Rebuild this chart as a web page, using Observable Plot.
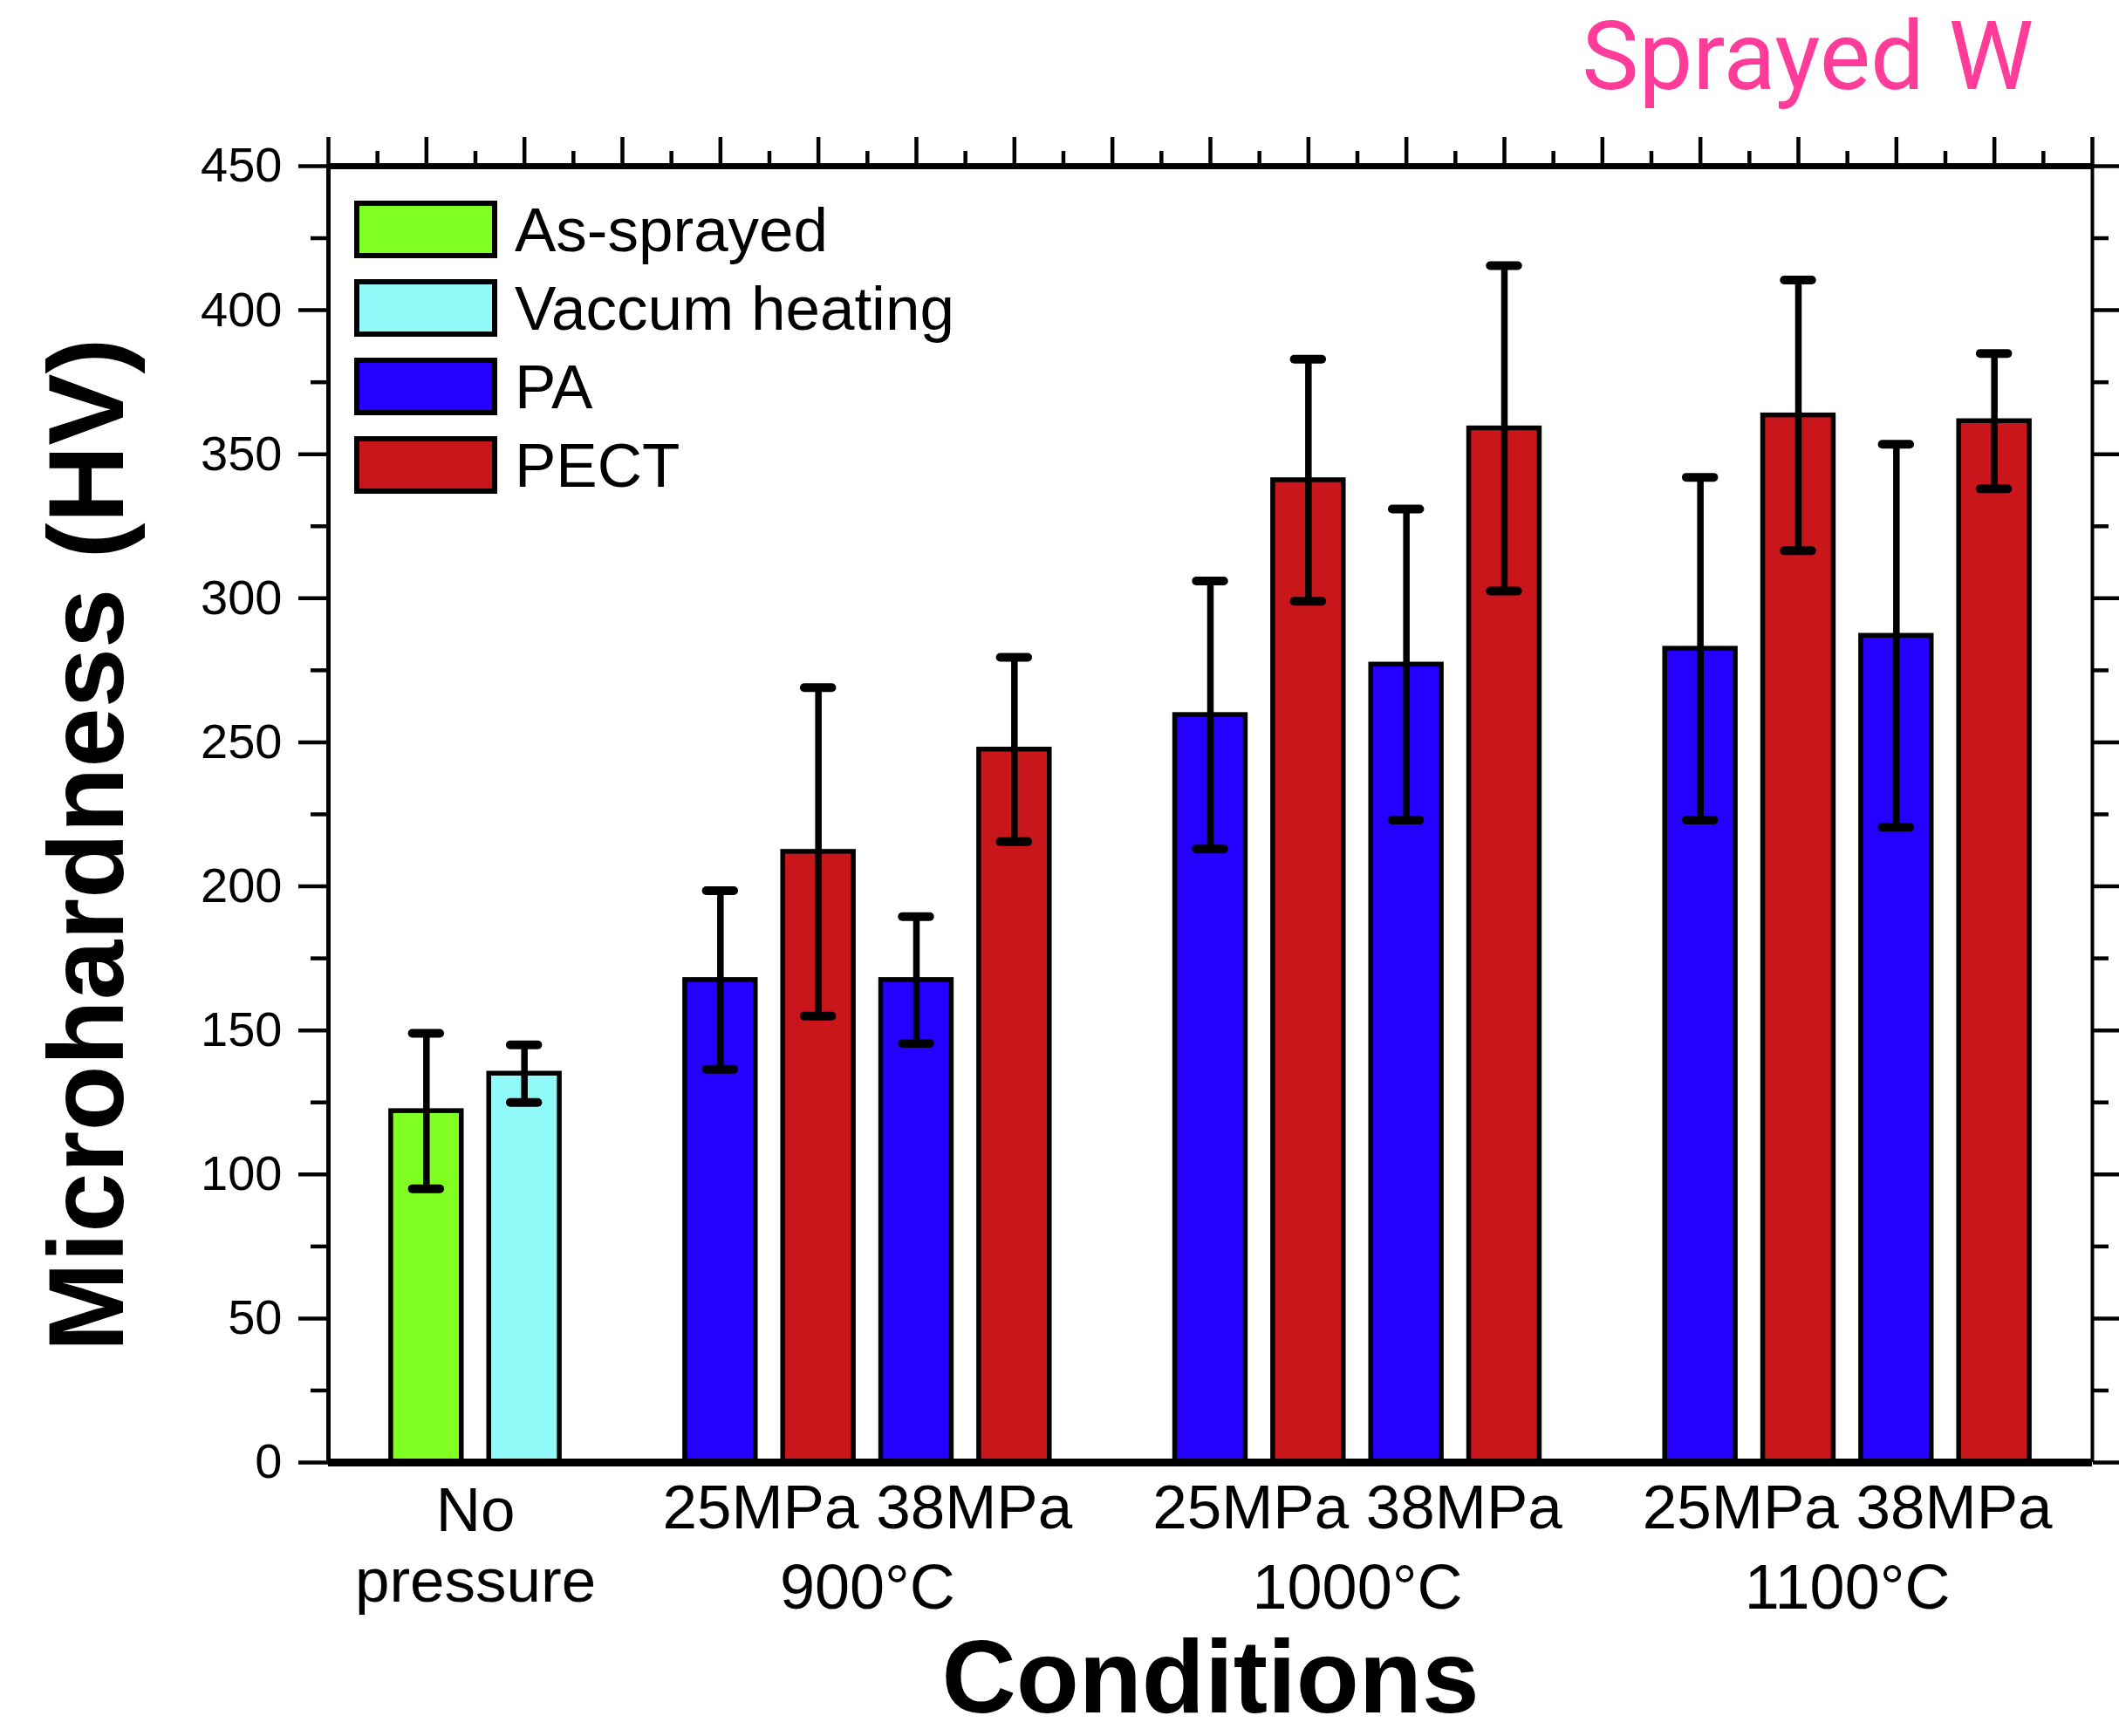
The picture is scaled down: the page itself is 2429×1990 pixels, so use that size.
<!DOCTYPE html>
<html>
<head>
<meta charset="utf-8">
<script src="https://cdn.jsdelivr.net/npm/d3@7"></script>
<script src="https://cdn.jsdelivr.net/npm/@observablehq/plot@0.6"></script>
<style>
  html, body { margin: 0; padding: 0; background: #fff; }
  #wrap { width: 2429px; height: 1990px; position: relative; overflow: hidden; background: #fff; }
  #chart { position: absolute; left: 0; top: 0; }
  #title {
    position: absolute; right: 98px; top: 0px; z-index: 2;
    font-family: Roboto, "Noto Sans", sans-serif; font-size: 110px; line-height: normal;
    color: #ff3c9a; white-space: nowrap;
  }
</style>
</head>
<body>
<div id="wrap">
  <div id="chart"></div>
  <div id="title">Sprayed W</div>
</div>
<script>
// ---- data ----
const treatments = ["As-sprayed", "Vaccum heating", "PA", "PECT"];
const treatmentColors = ["#80ff22", "#8ffaf8", "#2600ff", "#c8161b"];
const groups = ["No pressure", "900°C", "1000°C", "1100°C"];
const groupTickLabels = ["No\npressure", "25MPa 38MPa", "25MPa 38MPa", "25MPa 38MPa"];
const groupTempLabels = ["", "900°C", "1000°C", "1100°C"];
const barGroup = [0, 0, 1, 1, 1, 1, 2, 2, 2, 2, 3, 3, 3, 3];
const barTreatment = ["As-sprayed", "Vaccum heating", "PA", "PECT", "PA", "PECT", "PA", "PECT", "PA", "PECT", "PA", "PECT", "PA", "PECT"];
const barPressure = ["", "", "25MPa", "25MPa", "38MPa", "38MPa", "25MPa", "25MPa", "38MPa", "38MPa", "25MPa", "25MPa", "38MPa", "38MPa"];
const meanHV = [122, 135, 167.5, 212, 167.5, 247.5, 259.5, 341, 277, 359, 282.5, 363.5, 287, 361.5];
const sdHV = [27, 10, 31, 57, 22, 32, 46.5, 42, 54, 56.5, 59.5, 47, 66.5, 23.5];
const yMajorTicks = [0, 50, 100, 150, 200, 250, 300, 350, 400, 450];

// ---- layout of bar slots: one empty slot between groups ----
const bars = meanHV.map((m, i) => {
  const gi = barGroup[i];
  return {
    group: groups[gi], gi, treatment: barTreatment[i], pressure: barPressure[i],
    mean: m, sd: sdHV[i], pos: 1 + i + gi
  };
});
const nSlots = bars.length + groups.length; // 18
const groupData = groups.map((g, i) => ({
  group: g, tick: groupTickLabels[i], temp: groupTempLabels[i],
  multiline: groupTickLabels[i].includes("\n"),
  center: d3.mean(bars.filter(b => b.gi === i), b => b.pos)
}));
const halfBar = 0.36, halfCap = 0.14;
const yMinorTicks = yMajorTicks.slice(0, -1).map((t, i) => (t + yMajorTicks[i + 1]) / 2);

function legend(index, scales, values, dim) {
  const g = d3.create("svg:g");
  treatments.forEach((t, i) => {
    const cy = dim.marginTop + 73 + i * 90;
    g.append("rect")
      .attr("x", dim.marginLeft + 33).attr("y", cy - 30)
      .attr("width", 158).attr("height", 60)
      .attr("fill", scales.color ? scales.color(t) : treatmentColors[i])
      .attr("stroke", "black").attr("stroke-width", 6);
    g.append("text")
      .attr("x", dim.marginLeft + 214).attr("y", cy)
      .attr("dy", "0.35em")
      .attr("text-anchor", "start")
      .attr("font-size", 71)
      .attr("font-family", "'Liberation Sans', Arial, sans-serif")
      .attr("fill", "black")
      .text(t);
  });
  return g.node();
}

const chart = Plot.plot({
  width: 2429,
  height: 1990,
  marginTop: 190,
  marginBottom: 314,
  marginLeft: 376,
  marginRight: 31,
  x: { domain: [0, nSlots], label: null },
  y: { domain: [0, 450], label: null },
  color: { domain: treatments, range: treatmentColors },
  style: { fontFamily: "'Liberation Sans', Arial, sans-serif", background: "white", color: "black" },
  marks: [
    Plot.rectY(bars, {
      x1: d => d.pos - halfBar, x2: d => d.pos + halfBar,
      y1: 0, y2: "mean", fill: "treatment", stroke: "black", strokeWidth: 5.5
    }),
    Plot.ruleX(bars, { x: "pos", y1: d => d.mean - d.sd, y2: d => d.mean + d.sd, stroke: "black", strokeWidth: 7.5 }),
    Plot.ruleY(bars, { y: d => d.mean + d.sd, x1: d => d.pos - halfCap, x2: d => d.pos + halfCap, stroke: "black", strokeWidth: 10, strokeLinecap: "round" }),
    Plot.ruleY(bars, { y: d => d.mean - d.sd, x1: d => d.pos - halfCap, x2: d => d.pos + halfCap, stroke: "black", strokeWidth: 10, strokeLinecap: "round" }),
    // frame
    Plot.ruleY([0], { stroke: "black", strokeWidth: 9 }),
    Plot.ruleY([450], { stroke: "black", strokeWidth: 7 }),
    Plot.ruleX([0], { stroke: "black", strokeWidth: 5 }),
    Plot.ruleX([nSlots], { stroke: "black", strokeWidth: 4 }),
    // axes
    Plot.axisY({ anchor: "left", ticks: yMajorTicks, tickSize: 34, tickPadding: 19, fontSize: 56, strokeWidth: 4.5, label: null }),
    Plot.axisY({ anchor: "left", ticks: yMinorTicks, tickSize: 20, fill: "none", strokeWidth: 4.5, label: null }),
    Plot.axisY({ anchor: "right", ticks: yMajorTicks, tickSize: 34, fill: "none", strokeWidth: 4.5, label: null }),
    Plot.axisY({ anchor: "right", ticks: yMinorTicks, tickSize: 18, fill: "none", strokeWidth: 4.5, label: null }),
    Plot.axisX({ anchor: "top", ticks: d3.range(0, nSlots + 1), tickSize: 34, fill: "none", strokeWidth: 4.5, label: null }),
    Plot.axisX({ anchor: "top", ticks: d3.range(0.5, nSlots, 1), tickSize: 18, fill: "none", strokeWidth: 4.5, label: null }),
    // category labels
    Plot.text(groupData.filter(d => !d.multiline), { x: "center", text: "tick", frameAnchor: "bottom", lineAnchor: "top", textAnchor: "middle", dy: 25, fontSize: 71, fill: "black" }),
    Plot.text(groupData.filter(d => d.multiline), { x: "center", text: "tick", frameAnchor: "bottom", lineAnchor: "top", textAnchor: "middle", dy: 22, fontSize: 71, lineHeight: 1.13, fill: "black" }),
    Plot.text(groupData.filter(d => d.temp), { x: "center", text: "temp", frameAnchor: "bottom", lineAnchor: "top", textAnchor: "middle", dy: 116, fontSize: 72, fill: "black" }),
    // axis titles
    Plot.text(["Conditions"], { frameAnchor: "bottom", lineAnchor: "bottom", textAnchor: "middle", dy: 286, fontSize: 118, fontWeight: "bold", fill: "black" }),
    Plot.text(["Microhardness (HV)"], { frameAnchor: "left", rotate: -90, textAnchor: "middle", lineAnchor: "middle", dx: -275, dy: 35, fontSize: 123, fontWeight: "bold", fill: "black" }),
    legend
  ]
});
document.getElementById("chart").appendChild(chart);
</script>
</body>
</html>
